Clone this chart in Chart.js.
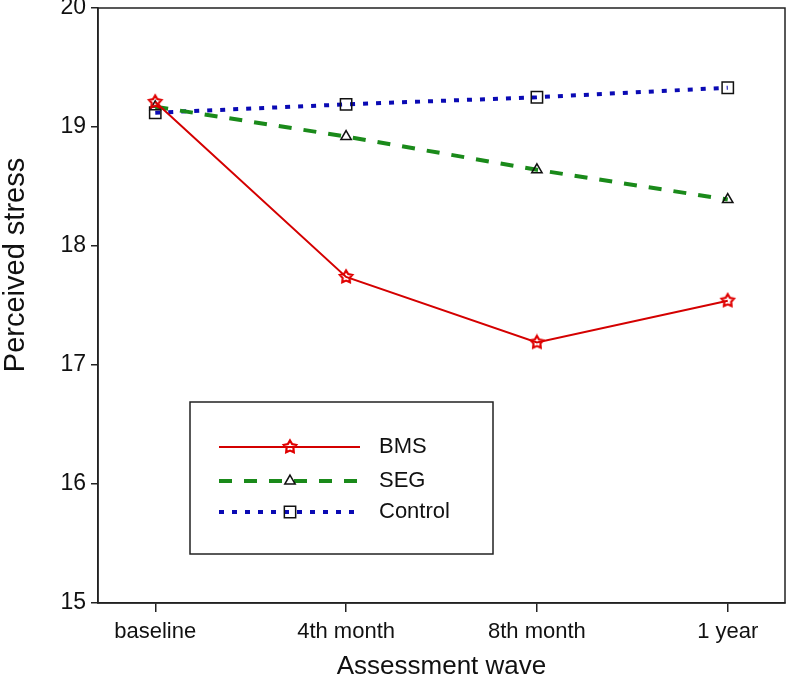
<!DOCTYPE html>
<html>
<head>
<meta charset="utf-8">
<script src="https://cdn.jsdelivr.net/npm/chart.js@4"></script>
<style>
  html, body { margin: 0; padding: 0; background: #fff; }
  canvas { display: block; }
</style>
</head>
<body>
<canvas id="stressChart" width="788" height="685"></canvas>
<script>
// ==========================
// Data
// ==========================
const waves = ["baseline", "4th month", "8th month", "1 year"];
const groups = ["BMS", "SEG", "Control"];
const bmsValues = [19.21, 17.74, 17.19, 17.54];
const segValues = [19.17, 18.92, 18.64, 18.39];
const controlValues = [19.12, 19.19, 19.25, 19.33];
const yTicks = [15, 16, 17, 18, 19, 20];

const FONT = "'Liberation Sans', Arial, Helvetica, sans-serif";

// star marker drawn on a small canvas (outline, red)
function makeStar(color) {
  const c = document.createElement("canvas");
  c.width = 18; c.height = 18;
  const g = c.getContext("2d");
  g.strokeStyle = color;
  g.lineWidth = 2.2;
  g.beginPath();
  for (let i = 0; i < 10; i++) {
    const r = i % 2 === 0 ? 6.5 : 3.6;
    const a = -Math.PI / 2 + i * Math.PI / 5;
    const px = 9 + r * Math.cos(a), py = 9 + r * Math.sin(a);
    if (i === 0) g.moveTo(px, py); else g.lineTo(px, py);
  }
  g.closePath();
  g.stroke();
  return c;
}
const starImg = makeStar("#e00000");

const toPoints = vals => vals.map((v, i) => ({ x: i, y: v }));

// ==========================
// Frame, y title + legend plugin
// ==========================
const framePlugin = {
  id: "frame",
  afterDraw(chart) {
    const { ctx, chartArea: a } = chart;
    ctx.save();
    ctx.strokeStyle = "#222";
    ctx.lineWidth = 1.5;
    ctx.strokeRect(a.left, a.top, a.right - a.left, a.bottom - a.top);

    // y axis title
    ctx.save();
    ctx.translate(16, 265);
    ctx.rotate(-Math.PI / 2);
    ctx.fillStyle = "#111";
    ctx.font = "29px " + FONT;
    ctx.textAlign = "center";
    ctx.textBaseline = "middle";
    ctx.fillText("Perceived stress", 0, 0);
    ctx.restore();

    // legend box
    const bx = 190, by = 402, bw = 303, bh = 152;
    ctx.lineWidth = 1.5;
    ctx.strokeRect(bx, by, bw, bh);
    const rows = [447, 481, 512];
    chart.data.datasets.forEach((ds, i) => {
      const y = rows[i];
      ctx.save();
      ctx.strokeStyle = ds.borderColor;
      ctx.lineWidth = ds.borderWidth;
      ctx.setLineDash(ds.borderDash || []);
      ctx.beginPath();
      ctx.moveTo(219, y);
      ctx.lineTo(360, y);
      ctx.stroke();
      ctx.setLineDash([]);
      const mx = 290;
      if (ds.pointStyle instanceof HTMLCanvasElement) {
        ctx.drawImage(ds.pointStyle, mx - 9, y - 9);
      } else {
        ctx.strokeStyle = "#111";
        ctx.fillStyle = "rgba(0,0,0,0)";
        ctx.lineWidth = 1.5;
        Chart.helpers.drawPoint(ctx, {
          pointStyle: ds.pointStyle, radius: ds.pointRadius, borderWidth: 1.5
        }, mx, y);
      }
      ctx.fillStyle = "#111";
      ctx.font = "22px " + FONT;
      ctx.textBaseline = "middle";
      ctx.fillText(groups[i], 379, y);
      ctx.restore();
    });
    ctx.restore();
  }
};

// ==========================
// Chart
// ==========================
new Chart(document.getElementById("stressChart"), {
  type: "line",
  data: {
    datasets: [
      {
        label: groups[0],
        data: toPoints(bmsValues),
        borderColor: "#d40000",
        borderWidth: 2,
        pointStyle: starImg,
        pointRadius: 7
      },
      {
        label: groups[1],
        data: toPoints(segValues),
        borderColor: "#1a8a1a",
        borderWidth: 4,
        borderDash: [13, 12],
        pointStyle: "triangle",
        pointRadius: 6,
        pointBorderColor: "#111",
        pointBackgroundColor: "rgba(255,255,255,0)",
        pointBorderWidth: 1.5
      },
      {
        label: groups[2],
        data: toPoints(controlValues),
        borderColor: "#0a0ab4",
        borderWidth: 4,
        borderDash: [5, 8],
        pointStyle: "rect",
        pointRadius: 8,
        pointBorderColor: "#111",
        pointBackgroundColor: "rgba(255,255,255,0)",
        pointBorderWidth: 1.5
      }
    ]
  },
  options: {
    responsive: false,
    animation: false,
    layout: { autoPadding: false, padding: { top: 8, right: 3, left: 0, bottom: 0 } },
    plugins: { legend: { display: false }, tooltip: { enabled: false } },
    elements: { line: { tension: 0, borderCapStyle: "butt" } },
    scales: {
      x: {
        type: "linear",
        min: -0.3,
        max: 3.3,
        afterBuildTicks: scale => { scale.ticks = waves.map((_, i) => ({ value: i })); },
        afterFit: scale => {
          scale.height = 82;
          scale.paddingLeft = 0;
          scale.paddingRight = 0;
        },
        ticks: {
          callback: v => waves[v],
          color: "#111",
          font: { family: FONT, size: 22 },
          padding: 7,
          autoSkip: false,
          maxRotation: 0
        },
        grid: { drawOnChartArea: false, drawTicks: true, tickLength: 9, color: "#222", lineWidth: 1.5 },
        border: { display: true, color: "#222", width: 1.5 },
        title: {
          display: true,
          text: "Assessment wave",
          color: "#111",
          font: { family: FONT, size: 26 },
          padding: { top: 0, bottom: 3 }
        }
      },
      y: {
        min: 15,
        max: 20,
        afterBuildTicks: scale => { scale.ticks = yTicks.map(v => ({ value: v })); },
        afterFit: scale => {
          scale.width = 98;
          scale.paddingTop = 0;
          scale.paddingBottom = 0;
        },
        ticks: {
          color: "#111",
          font: { family: FONT, size: 23 },
          padding: 5
        },
        grid: { drawOnChartArea: false, drawTicks: true, tickLength: 7, color: "#222", lineWidth: 1.5 },
        border: { display: true, color: "#222", width: 1.5 },
        title: { display: false }
      }
    }
  },
  plugins: [framePlugin]
});
</script>
</body>
</html>
